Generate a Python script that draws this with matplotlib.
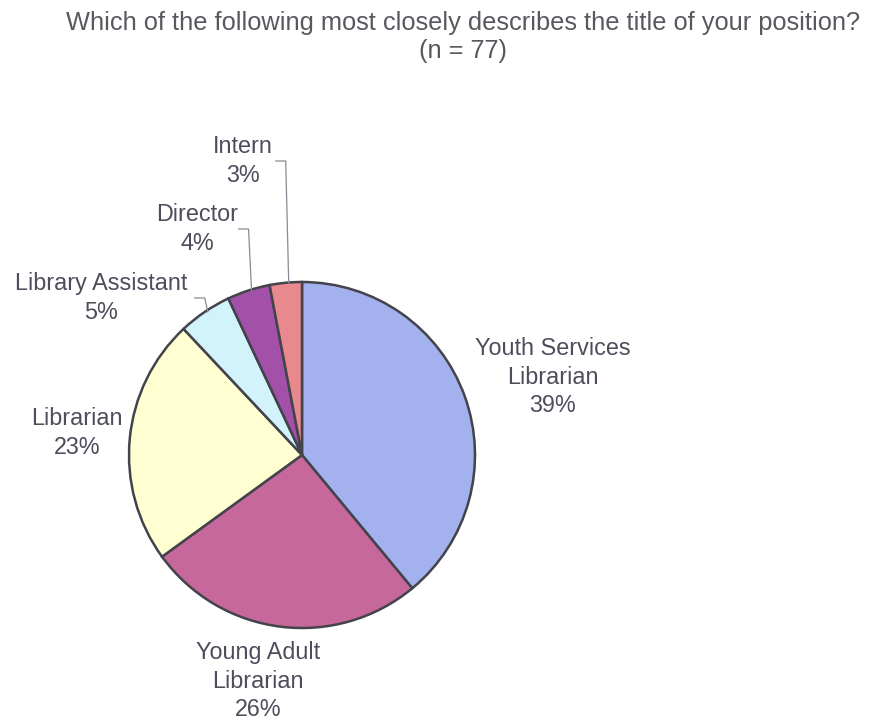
import numpy as np
import matplotlib
matplotlib.use("Agg")
import matplotlib.pyplot as plt

W, H = 881, 722

categories = ["Youth Services\nLibrarian", "Young Adult\nLibrarian", "Librarian",
              "Library Assistant", "Director", "Intern"]
percents = [39, 26, 23, 5, 4, 3]
colors = ["#A3B1EE", "#C6689B", "#FFFFD2", "#D2F3FB", "#A250A8", "#E8898F"]

title = "Which of the following most closely describes the title of your position?\n(n = 77)"

# label anchor positions (pixels from top-left) and whether a leader line is drawn
label_pos = [(553, 377), (258, 681), (77, 433), (101, 298), (197, 229), (243, 161)]
leader = [False, False, False, True, True, True]

plt.rcParams["font.family"] = ["Liberation Sans", "DejaVu Sans"]
fig = plt.figure(figsize=(W / 100, H / 100), dpi=100)
ax = fig.add_axes([0, 0, 1, 1])

cx, cy, r = 302, H - 455, 173
wedges, _ = ax.pie(percents, colors=colors, startangle=90, counterclock=False,
                   center=(cx, cy), radius=r, frame=True,
                   wedgeprops=dict(edgecolor="#43434b", linewidth=1.8))
ax.set_xlim(0, W)
ax.set_ylim(0, H)
ax.set_aspect("equal")
ax.axis("off")

text_color = "#4d4d5c"
for w, name, pct, (lx, ly), lead in zip(wedges, categories, percents, label_pos, leader):
    ax.text(lx, H - ly, f"{name}\n{pct}%", ha="center", va="center",
            fontsize=16.8, color=text_color, linespacing=1.33)
    if lead:
        mid = np.deg2rad((w.theta1 + w.theta2) / 2)
        ex, ey = cx + r * np.cos(mid), cy + r * np.sin(mid)
        ax.plot([ex - 10, ex, ex + 3], [H - ly, H - ly, ey], color="#8a8a96",
                linewidth=0.9, solid_joinstyle="miter")

ax.text(463, H - 37, title, ha="center", va="center", fontsize=18.3,
        color="#58585f", linespacing=1.2)

fig.savefig("out.png", dpi=100, facecolor="white")
